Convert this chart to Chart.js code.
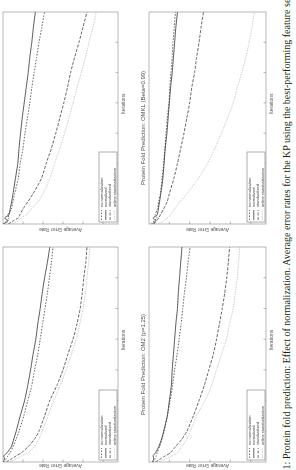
<!DOCTYPE html>
<html>
<head>
<meta charset="utf-8">
<script src="https://cdn.jsdelivr.net/npm/chart.js@4.4.1/dist/chart.umd.min.js"></script>
<style>
html, body { margin: 0; padding: 0; background: #fff; width: 296px; height: 470px; overflow: hidden; }
/* the page is drawn upright (470 x 296) and turned a quarter left, like the scan */
#page { position: absolute; left: 0; top: 0; width: 470px; height: 296px; background: #fff; overflow: hidden;
        transform-origin: 0 0; transform: translateY(470px) rotate(-90deg); }
.panel { position: absolute; }
#caption { position: absolute; left: -28px; top: 281px; white-space: nowrap; color: #222;
           font: 10px "Liberation Serif", serif; }
</style>
</head>
<body>
<div id="page">
  <div class="panel" style="left:0;top:-8px"><canvas id="chartA" width="232" height="136"></canvas></div>
  <div class="panel" style="left:232px;top:-8px"><canvas id="chartB" width="238" height="136"></canvas></div>
  <div class="panel" style="left:0;top:140px"><canvas id="chartC" width="232" height="140"></canvas></div>
  <div class="panel" style="left:232px;top:140px"><canvas id="chartD" width="238" height="140"></canvas></div>
  <div id="caption">Figure 1: Protein fold prediction: Effect of normalization. Average error rates for the KP using the best-performing feature set for each method.</div>
</div>
<script>
const iterations = [0, 100, 200, 300, 500, 750, 1000, 1500, 2000, 2500, 3000, 3500, 4000, 4500, 5000, 5500, 6000, 6500, 7000];
const seriesNames = ['no normalization', 'normalized', 'standardized', 'online standardization'];
const xTicks = [1000, 2000, 3000, 4000, 5000, 6000];
const yTicks = [0.35, 0.40, 0.45, 0.50, 0.55];

// top left: Perceptron
const percNone   = [0.598, 0.592, 0.588, 0.582, 0.575, 0.567, 0.560, 0.548, 0.538, 0.528, 0.521, 0.513, 0.507, 0.501, 0.495, 0.489, 0.484, 0.479, 0.475];
const percNorm   = [0.600, 0.596, 0.598, 0.590, 0.579, 0.573, 0.567, 0.557, 0.546, 0.538, 0.531, 0.525, 0.518, 0.513, 0.507, 0.502, 0.496, 0.489, 0.483];
const percStd    = [0.592, 0.579, 0.567, 0.554, 0.537, 0.521, 0.510, 0.496, 0.483, 0.465, 0.450, 0.438, 0.425, 0.415, 0.407, 0.402, 0.398, 0.393, 0.390];
const percOnline = [0.583, 0.567, 0.554, 0.537, 0.521, 0.510, 0.502, 0.488, 0.473, 0.457, 0.442, 0.429, 0.417, 0.408, 0.400, 0.394, 0.390, 0.386, 0.383];

// top right: OM2 (p=2)
const om2aNone   = [0.598, 0.592, 0.585, 0.588, 0.579, 0.575, 0.571, 0.562, 0.557, 0.550, 0.545, 0.539, 0.533, 0.528, 0.522, 0.516, 0.510, 0.503, 0.496];
const om2aNorm   = [0.600, 0.587, 0.596, 0.585, 0.582, 0.578, 0.575, 0.569, 0.563, 0.560, 0.556, 0.552, 0.547, 0.542, 0.537, 0.533, 0.528, 0.524, 0.519];
const om2aStd    = [0.587, 0.575, 0.562, 0.558, 0.550, 0.537, 0.525, 0.504, 0.492, 0.479, 0.468, 0.458, 0.448, 0.439, 0.431, 0.421, 0.410, 0.400, 0.390];
const om2aOnline = [0.583, 0.562, 0.554, 0.542, 0.529, 0.512, 0.500, 0.483, 0.471, 0.458, 0.446, 0.435, 0.425, 0.415, 0.404, 0.394, 0.385, 0.375, 0.367];

// bottom left: OM2 (p=1.25)
const om2bNone   = [0.590, 0.585, 0.582, 0.580, 0.574, 0.568, 0.563, 0.555, 0.548, 0.542, 0.537, 0.531, 0.526, 0.521, 0.517, 0.513, 0.508, 0.504, 0.499];
const om2bNorm   = [0.592, 0.588, 0.590, 0.584, 0.576, 0.569, 0.564, 0.555, 0.550, 0.545, 0.543, 0.540, 0.537, 0.534, 0.530, 0.528, 0.525, 0.522, 0.519];
const om2bStd    = [0.584, 0.572, 0.560, 0.547, 0.535, 0.519, 0.507, 0.491, 0.477, 0.464, 0.453, 0.442, 0.434, 0.427, 0.420, 0.414, 0.409, 0.405, 0.402];
const om2bOnline = [0.576, 0.560, 0.543, 0.531, 0.519, 0.507, 0.499, 0.483, 0.462, 0.446, 0.434, 0.422, 0.410, 0.402, 0.393, 0.388, 0.383, 0.380, 0.377];

// bottom right: OMKL (Beta=0.99)
const omklNone   = [0.596, 0.588, 0.580, 0.585, 0.579, 0.576, 0.572, 0.568, 0.564, 0.561, 0.558, 0.555, 0.551, 0.549, 0.546, 0.543, 0.541, 0.538, 0.535];
const omklNorm   = [0.592, 0.584, 0.590, 0.580, 0.577, 0.574, 0.571, 0.566, 0.563, 0.560, 0.556, 0.553, 0.550, 0.547, 0.543, 0.540, 0.537, 0.534, 0.530];
const omklStd    = [0.588, 0.582, 0.576, 0.572, 0.564, 0.555, 0.550, 0.539, 0.530, 0.522, 0.514, 0.507, 0.500, 0.495, 0.488, 0.483, 0.477, 0.472, 0.466];
const omklOnline = [0.576, 0.564, 0.555, 0.547, 0.537, 0.523, 0.507, 0.479, 0.456, 0.438, 0.422, 0.407, 0.393, 0.383, 0.372, 0.362, 0.354, 0.347, 0.341];

const styles = [
  { color: '#333', dash: [1.5, 1.5] },
  { color: '#222', dash: [] },
  { color: '#333', dash: [3, 1.5] },
  { color: '#bdbdbd', dash: [1.5, 1] }
];

// box, inward ticks, Iterations label, title and the legend inside the plot
const frame = {
  id: 'frame',
  afterDatasetsDraw(chart, args, opts) {
    const { ctx, chartArea: a, scales: { x, y } } = chart;
    ctx.save();
    ctx.strokeStyle = '#888';
    ctx.lineWidth = 0.6;
    ctx.setLineDash([]);
    ctx.strokeRect(a.left, a.top, a.width, a.height);
    ctx.beginPath();
    xTicks.forEach(v => {
      const px = x.getPixelForValue(v);
      ctx.moveTo(px, a.bottom); ctx.lineTo(px, a.bottom - 2.5);
    });
    yTicks.forEach(v => {
      const py = y.getPixelForValue(v);
      ctx.moveTo(a.left, py); ctx.lineTo(a.left + 2.5, py);
    });
    ctx.stroke();

    ctx.fillStyle = '#555';
    ctx.textAlign = 'center';
    ctx.textBaseline = 'middle';
    ctx.font = '5px "Liberation Sans"';
    ctx.fillText('Iterations', a.left + a.width * 0.567, a.bottom + 5.5);
    ctx.font = '6px "Liberation Sans"';
    ctx.fillText(opts.title, a.left + a.width / 2 - 10, a.top - 6);

    // legend
    const lx = a.left + 2, lw = 70, lh = 18, ly = a.bottom - 1 - lh;
    ctx.fillStyle = '#fff';
    ctx.fillRect(lx, ly, lw, lh);
    ctx.strokeStyle = '#777';
    ctx.lineWidth = 0.6;
    ctx.strokeRect(lx, ly, lw, lh);
    ctx.textAlign = 'left';
    ctx.font = '4px "Liberation Sans"';
    chart.data.datasets.forEach((ds, i) => {
      const rowY = ly + 2.5 + i * 4.3;
      ctx.strokeStyle = ds.borderColor;
      ctx.lineWidth = 0.7;
      ctx.setLineDash(ds.borderDash);
      ctx.beginPath();
      ctx.moveTo(lx + 2, rowY); ctx.lineTo(lx + 12, rowY);
      ctx.stroke();
      ctx.fillStyle = '#444';
      ctx.fillText(ds.label, lx + 15, rowY);
    });
    ctx.restore();
  }
};

function makeChart(id, title, series, pad, yTitlePad) {
  return new Chart(document.getElementById(id), {
    type: 'line',
    data: {
      labels: iterations,
      datasets: series.map((vals, i) => ({
        label: seriesNames[i],
        data: iterations.map((it, k) => ({ x: it, y: vals[k] })),
        borderColor: styles[i].color,
        borderDash: styles[i].dash,
        borderWidth: 0.75,
        pointRadius: 0,
        tension: 0.2,
        fill: false
      }))
    },
    options: {
      responsive: false,
      animation: false,
      layout: { padding: pad },
      plugins: { legend: { display: false }, tooltip: { enabled: false }, frame: { title: title } },
      scales: {
        x: {
          type: 'linear', min: 0, max: 7000,
          grid: { display: false }, border: { display: false },
          ticks: { display: false },
          afterFit: s => { s.height = pad.xh; }
        },
        y: {
          min: 0.3125, max: 0.60,
          grid: { display: false }, border: { display: false },
          ticks: { display: false },
          title: { display: true, text: 'Average Error Rate', color: '#555',
                   font: { size: 5, family: 'Liberation Sans' }, padding: { top: yTitlePad, bottom: 0 } },
          afterFit: s => { s.width = 8; }
        }
      }
    },
    plugins: [frame]
  });
}

makeChart('chartA', 'Protein Fold Prediction: Perceptron',
  [percNone, percNorm, percStd, percOnline], { left: 0, right: 9, top: 11, bottom: 0, xh: 10 }, 2);
makeChart('chartB', 'Protein Fold Prediction: OM2 (p=2)',
  [om2aNone, om2aNorm, om2aStd, om2aOnline], { left: 6, right: 12, top: 11, bottom: 0, xh: 10 }, 0);
makeChart('chartC', 'Protein Fold Prediction: OM2 (p=1.25)',
  [om2bNone, om2bNorm, om2bStd, om2bOnline], { left: 0, right: 9, top: 9, bottom: 0, xh: 14 }, 2);
makeChart('chartD', 'Protein Fold Prediction: OMKL (Beta=0.99)',
  [omklNone, omklNorm, omklStd, omklOnline], { left: 6, right: 12, top: 9, bottom: 0, xh: 14 }, 0);
</script>
</body>
</html>
